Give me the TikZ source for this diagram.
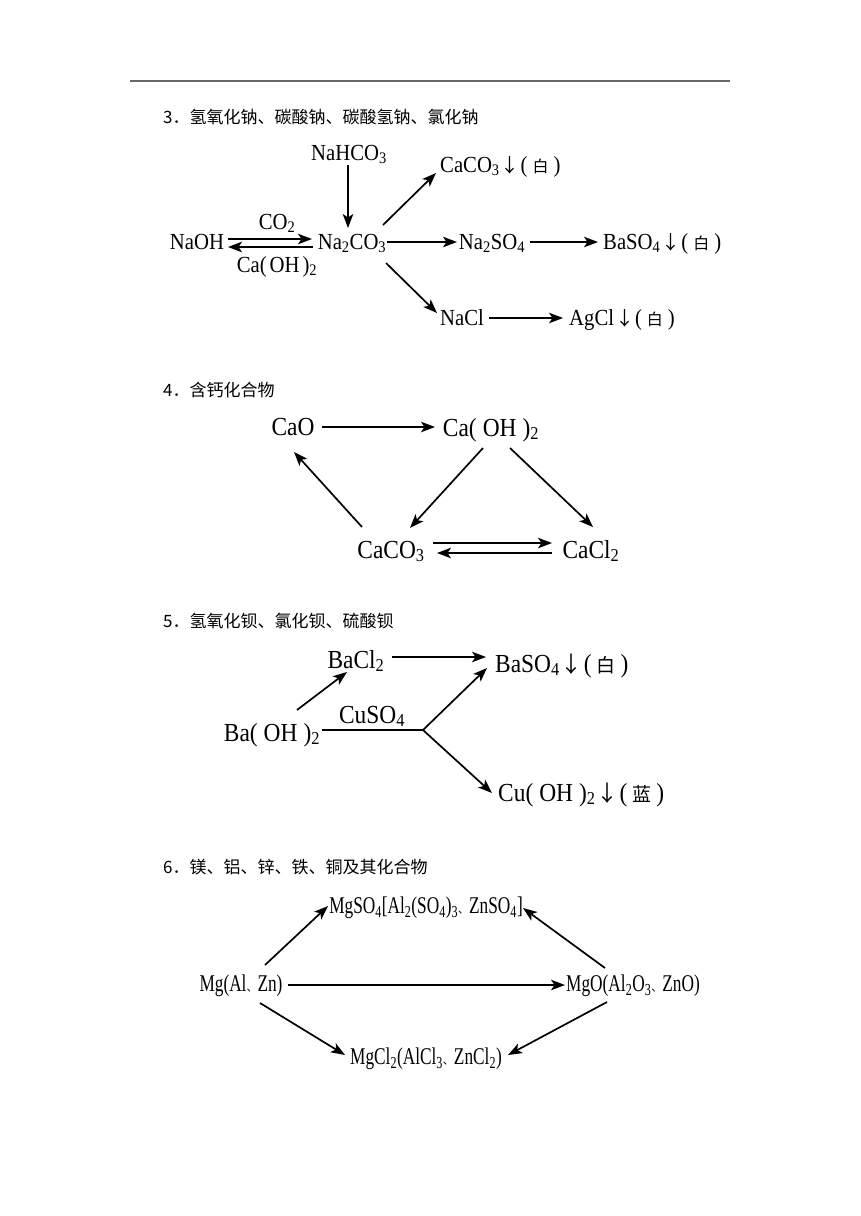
\documentclass[tikz,border=0pt]{standalone}
\usepackage{fontspec}
\setmainfont{Liberation Serif}[FakeStretch=0.9]
\newfontfamily\cjk{Noto Sans CJK SC}
\newfontfamily\narrowfont[FakeStretch=0.72]{Liberation Serif}
\usetikzlibrary{arrows.meta}
\newcommand{\ix}[1]{\textsubscript{#1}}
\newcommand{\dn}[1][19]{\kern1pt{\cjk\fontsize{#1}{#1}\selectfont ↓}\kern1pt}
\newcommand{\hue}[2][16]{(\hspace{5pt}{\cjk\fontsize{#1}{#1}\selectfont #2}\hspace{5pt})}
\newcommand{\dun}{{\cjk\fontsize{11}{11}\selectfont 、}}
\tikzset{
    chem/.style={inner sep=1pt,text height=17pt,text depth=3pt,font=\fontsize{23}{26}\selectfont},
    big/.style={inner sep=1pt,text height=19pt,text depth=3pt,font=\fontsize{26}{28}\selectfont},
    slim/.style={inner sep=1pt,text height=17pt,text depth=4pt,font=\fontsize{24}{26}\narrowfont},
    title/.style={anchor=west,inner sep=0pt,font=\fontsize{17}{20}\cjk},
    rx/.style={-{Stealth[length=14pt,width=10.5pt,inset=3.5pt]},line width=1.7pt},
    bar/.style={line width=1.7pt}
}
\begin{document}
\begin{tikzpicture}[x=1pt,y=1pt]
\useasboundingbox (0,0) rectangle (860,-1216);
\draw[color={rgb,255:red,105;green,105;blue,105},line width=1.6pt] (130,-81) -- (730,-81);
% 3
\node[title] (t3) at (163,-117) {3．氢氧化钠、碳酸钠、碳酸氢钠、氯化钠};
\node[chem] (naoh) at (197,-242) {NaOH};
\node[chem] (na2co3) at (352,-242) {Na\ix2CO\ix3};
\node[chem] (nahco3) at (349,-153) {NaHCO\ix3};
\node[chem,anchor=west] (caco3) at (439,-165) {CaCO\ix3\dn\hue{白}};
\node[chem] (na2so4) at (492,-242) {Na\ix2SO\ix4};
\node[chem,anchor=west] (baso4) at (602,-242) {BaSO\ix4\dn\hue{白}};
\node[chem] (nacl) at (462,-318) {NaCl};
\node[chem,anchor=west] (agcl) at (568,-318) {AgCl\dn\hue{白}};
\node[chem] (co2) at (277,-222) {CO\ix2};
\node[chem] (caoh2a) at (277,-265) {Ca(\hspace{3pt}OH\hspace{3pt})\ix2};
\draw[rx] ([shift={(-1,-12)}]nahco3.center) -- ([shift={(-4,14)}]na2co3.center);
\draw[rx] ([shift={(31,3)}]naoh.center) -- ([shift={(-40,3)}]na2co3.center);
\draw[rx] ([shift={(-39,-5)}]na2co3.center) -- ([shift={(31,-5)}]naoh.center);
\draw[rx] ([shift={(31,17)}]na2co3.center) -- ([shift={(-3,-8)}]caco3.west);
\draw[rx] ([shift={(35,0)}]na2co3.center) -- ([shift={(-35,0)}]na2so4.center);
\draw[rx] ([shift={(38,0)}]na2so4.center) -- ([shift={(-4,0)}]baso4.west);
\draw[rx] ([shift={(34,-21)}]na2co3.center) -- ([shift={(-25,5)}]nacl.center);
\draw[rx] ([shift={(27,0)}]nacl.center) -- ([shift={(-5,0)}]agcl.west);
% 4
\node[title] (t4) at (163,-390) {4．含钙化合物};
\node[big] (cao) at (293,-427) {CaO};
\node[big] (caoh2) at (491,-428) {Ca(\hspace{6pt}OH\hspace{6pt})\ix2};
\node[big] (caco3b) at (391,-550) {CaCO\ix3};
\node[big] (cacl2) at (591,-550) {CaCl\ix2};
\draw[rx] ([shift={(29,0)}]cao.center) -- ([shift={(-56,1)}]caoh2.center);
\draw[rx] ([shift={(-29,23)}]caco3b.center) -- ([shift={(1,-25)}]cao.center);
\draw[rx] ([shift={(-8,-20)}]caoh2.center) -- ([shift={(19,22)}]caco3b.center);
\draw[rx] ([shift={(19,-20)}]caoh2.center) -- ([shift={(2,23)}]cacl2.center);
\draw[rx] ([shift={(42,7)}]caco3b.center) -- ([shift={(-39,7)}]cacl2.center);
\draw[rx] ([shift={(-39,-3)}]cacl2.center) -- ([shift={(46,-3)}]caco3b.center);
% 5
\node[title] (t5) at (163,-621) {5．氢氧化钡、氯化钡、硫酸钡};
\node[big] (bacl2) at (356,-660) {BaCl\ix2};
\node[big,anchor=west] (baso4b) at (494,-664) {BaSO\ix4\dn[22]\hue[19]{白}};
\node[big] (baoh2) at (272,-733) {Ba(\hspace{6pt}OH\hspace{6pt})\ix2};
\node[big] (cuso4) at (372,-715) {CuSO\ix4};
\node[big,anchor=west] (cuoh2) at (497,-793) {Cu(\hspace{6pt}OH\hspace{6pt})\ix2\dn[22]\hue[19]{蓝}};
\coordinate (fork) at (423,-730);
\draw[rx] ([shift={(25,23)}]baoh2.center) -- ([shift={(-9,-12)}]bacl2.center);
\draw[rx] ([shift={(36,3)}]bacl2.center) -- ([shift={(-8,7)}]baso4b.west);
\draw[bar] ([shift={(50,3)}]baoh2.center) -- (fork);
\draw[rx] (fork) -- ([shift={(-7,-4)}]baso4b.west);
\draw[rx] (fork) -- ([shift={(-5,0)}]cuoh2.west);
% 6
\node[title] (t6) at (163,-867) {6．镁、铝、锌、铁、铜及其化合物};
\node[slim] (mgso4) at (426,-907) {MgSO\ix4[Al\ix2(SO\ix4)\ix3\dun ZnSO\ix4]};
\node[slim] (mg) at (241,-985) {Mg(Al\dun Zn)};
\node[slim] (mgo) at (633,-985) {MgO(Al\ix2O\ix3\dun ZnO)};
\node[slim] (mgcl2) at (426,-1058) {MgCl\ix2(AlCl\ix3\dun ZnCl\ix2)};
\draw[rx] ([shift={(24,20)}]mg.center) -- ([shift={(-98,1)}]mgso4.center);
\draw[rx] ([shift={(47,0)}]mg.center) -- ([shift={(-68,0)}]mgo.center);
\draw[rx] ([shift={(19,-18)}]mg.center) -- ([shift={(-81,3)}]mgcl2.center);
\draw[rx] ([shift={(-28,17)}]mgo.center) -- ([shift={(97,-1)}]mgso4.center);
\draw[rx] ([shift={(-26,-17)}]mgo.center) -- ([shift={(82,3)}]mgcl2.center);
\end{tikzpicture}
\end{document}
